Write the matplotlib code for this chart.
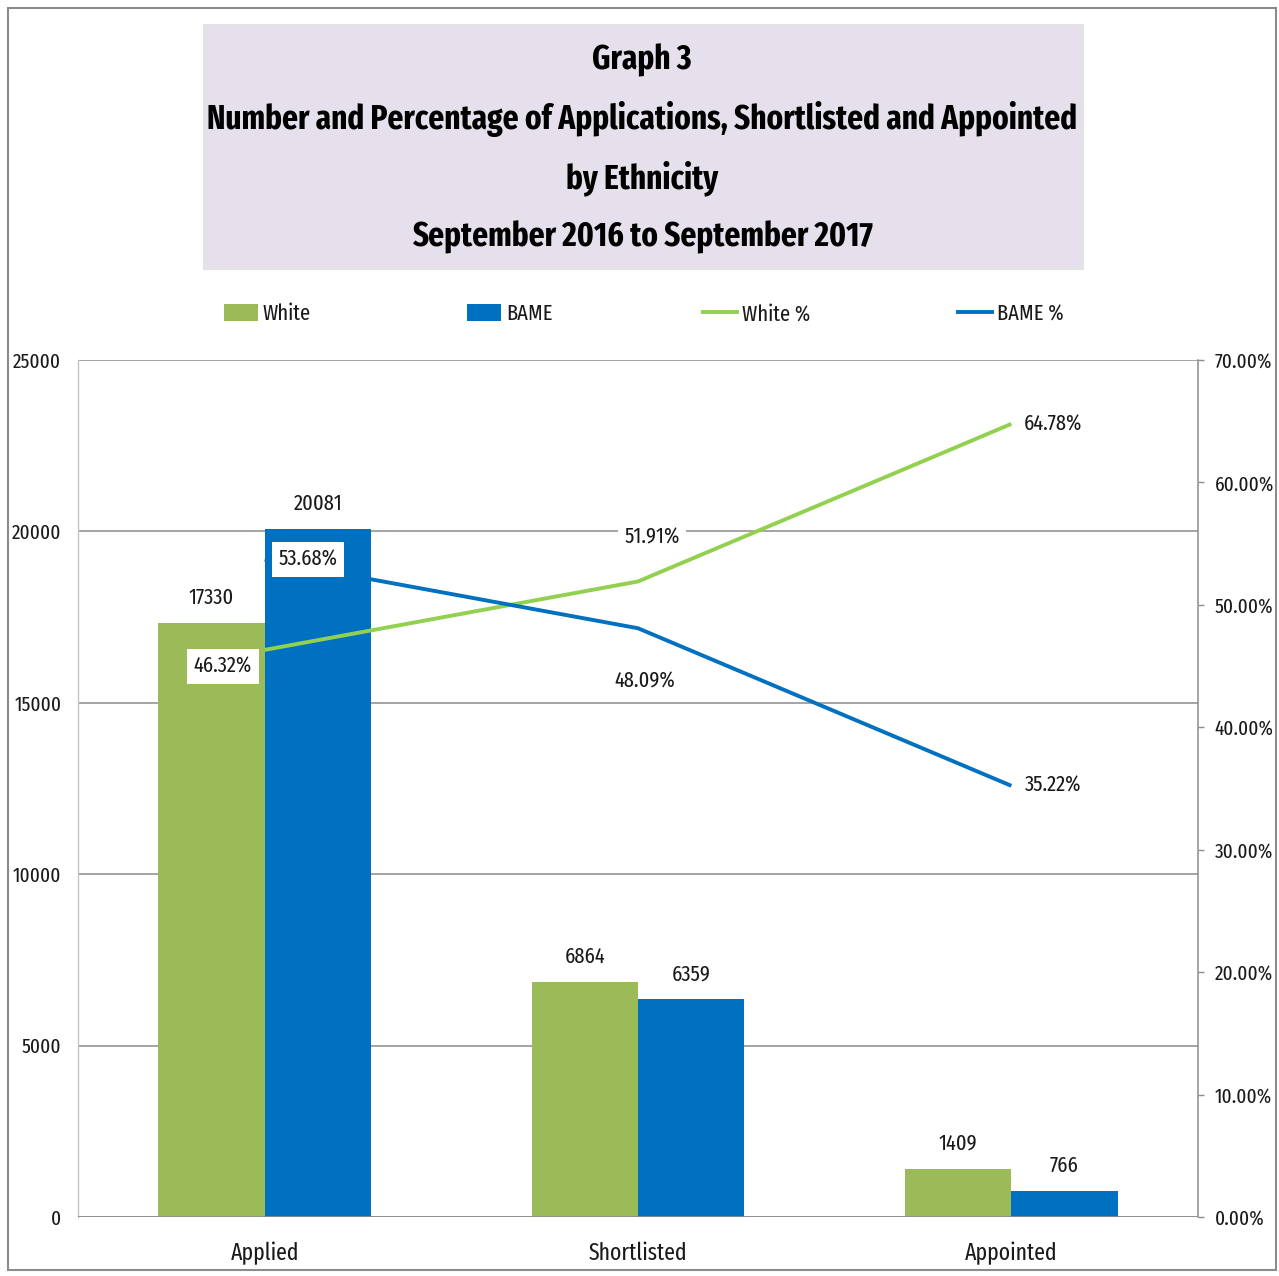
import matplotlib
matplotlib.use("Agg")
import matplotlib.pyplot as plt
from matplotlib.patches import Rectangle, Patch
from matplotlib.lines import Line2D
from matplotlib.ticker import FuncFormatter, MultipleLocator

# Data
categories = ["Applied", "Shortlisted", "Appointed"]
white_counts = [17330, 6864, 1409]
bame_counts = [20081, 6359, 766]
white_pct = [46.32, 51.91, 64.78]
bame_pct = [53.68, 48.09, 35.22]
series_names = ["White", "BAME", "White %", "BAME %"]

title_lines = [
    "Graph 3",
    "Number and Percentage of Applications, Shortlisted and Appointed",
    "by Ethnicity",
    "September 2016 to September 2017",
]

GREEN_BAR = "#9BBB59"
BLUE_BAR = "#0070C0"
GREEN_LINE = "#92D050"
BLUE_LINE = "#0070C0"
TXT = "#1a1a1a"

FONT = ["Fira Sans Extra Condensed", "DejaVu Sans"]
plt.rcParams["font.family"] = FONT
FS = 16
TICK_FS = 15

W, H = 1279, 1276
fig = plt.figure(figsize=(W / 100, H / 100), dpi=100)
fig.patch.set_facecolor("white")


def fx(px):
    return px / W


def fy(py):
    return 1 - py / H


# outer frame
fig.add_artist(Rectangle((fx(8), fy(1270)), fx(1268), 1262 / H,
                         transform=fig.transFigure, fill=False,
                         edgecolor="#8c8c8c", linewidth=1.5))

# title panel
fig.add_artist(Rectangle((fx(203), fy(270)), fx(881), 246 / H,
                         transform=fig.transFigure, facecolor="#e3e3e3",
                         edgecolor="none", zorder=0))
fig.add_artist(Rectangle((fx(206), fy(267)), fx(876), 242 / H,
                         transform=fig.transFigure, facecolor="#E5E0EC",
                         edgecolor="none", zorder=1))
title_texts = []
for i, line in enumerate(title_lines):
    t = fig.text(fx(642), fy(60 + i * 59), line, ha="center", va="center",
                 fontsize=30, fontweight="bold", color="black", zorder=2)
    title_texts.append(t)

# size the title so the long line spans the panel
renderer = fig.canvas.get_renderer()
w_long = title_texts[1].get_window_extent(renderer).width
scale = 870 / w_long
for t in title_texts:
    t.set_fontsize(min(30 * scale, 34))

# axes
ax = fig.add_axes([fx(78), 59 / H, fx(1120), 857 / H])
ax2 = ax.twinx()
ax.set_zorder(1)
ax2.set_zorder(2)
ax.patch.set_visible(False)
ax2.patch.set_visible(False)

x = list(range(len(categories)))
bw = 0.285
xw = [i - bw / 2 for i in x]
xb = [i + bw / 2 for i in x]
ax.bar(xw, white_counts, width=bw, color=GREEN_BAR, zorder=3)
ax.bar(xb, bame_counts, width=bw, color=BLUE_BAR, zorder=3)

ax.set_xlim(-0.5, 2.5)
ax.set_ylim(0, 25000)
ax.yaxis.set_major_locator(MultipleLocator(5000))
ax.grid(axis="y", color="#8c8c8c", linewidth=1.1, zorder=0)
ax.set_axisbelow(True)
for s in ["top", "right", "bottom"]:
    ax.spines[s].set_visible(False)
ax.spines["left"].set_color("#c4c4c4")
ax.spines["left"].set_linewidth(1.0)
ax.set_xticks(x)
ax.set_xticklabels(categories, fontsize=FS + 1, color=TXT)
ax.tick_params(axis="x", length=0, pad=18)
ax.tick_params(axis="y", length=0, pad=12, labelsize=TICK_FS, labelcolor=TXT)
ax.axhline(0, color="#8c8c8c", linewidth=1.2, zorder=4)

# bar value labels
for xs, vals in ((xw, white_counts), (xb, bame_counts)):
    for xi, v in zip(xs, vals):
        ax.annotate(f"{v}", (xi, v), xytext=(0, 18), textcoords="offset points",
                    ha="center", va="center", fontsize=FS, color=TXT, zorder=6)

# percentage lines
ax2.plot(x, white_pct, color=GREEN_LINE, linewidth=2.8, zorder=5,
         solid_capstyle="butt")
ax2.plot(x, bame_pct, color=BLUE_LINE, linewidth=2.8, zorder=5,
         solid_capstyle="butt")
ax2.set_ylim(0, 70)
ax2.yaxis.set_major_locator(MultipleLocator(10))
ax2.yaxis.set_major_formatter(FuncFormatter(lambda v, p: f"{v:.2f}%"))
for s in ["top", "left", "bottom"]:
    ax2.spines[s].set_visible(False)
ax2.spines["right"].set_color("#8c8c8c")
ax2.spines["right"].set_linewidth(1.1)
ax2.tick_params(axis="y", length=4, width=1, color="#8c8c8c", pad=8,
                labelsize=TICK_FS, labelcolor=TXT)

box = dict(boxstyle="square,pad=0.3", facecolor="white", edgecolor="none")
white_offsets = [(-30, -12), (10, 32), (30, 0)]
bame_offsets = [(31, 0), (5, -38), (30, 0)]
for pcts, offs in ((white_pct, white_offsets), (bame_pct, bame_offsets)):
    for xi, v, off in zip(x, pcts, offs):
        ax2.annotate(f"{v:.2f}%", (xi, v), xytext=off, textcoords="offset points",
                     ha="center", va="center", fontsize=FS, color=TXT,
                     bbox=box, zorder=7)

# legend: one entry per slot across the top
handles = [
    Patch(facecolor=GREEN_BAR, edgecolor="none"),
    Patch(facecolor=BLUE_BAR, edgecolor="none"),
    Line2D([0], [0], color=GREEN_LINE, linewidth=2.8),
    Line2D([0], [0], color=BLUE_LINE, linewidth=2.8),
]
slot_x = [224, 467, 703, 958]
for h, name, sx in zip(handles, series_names, slot_x):
    fig.legend([h], [name], loc="center left",
               bbox_to_anchor=(fx(sx), fy(314)), frameon=False,
               fontsize=FS, handlelength=1.55, handletextpad=0.2,
               handleheight=0.85, borderpad=0, borderaxespad=0,
               labelcolor=TXT)

fig.savefig("out.png", dpi=100, facecolor="white")
